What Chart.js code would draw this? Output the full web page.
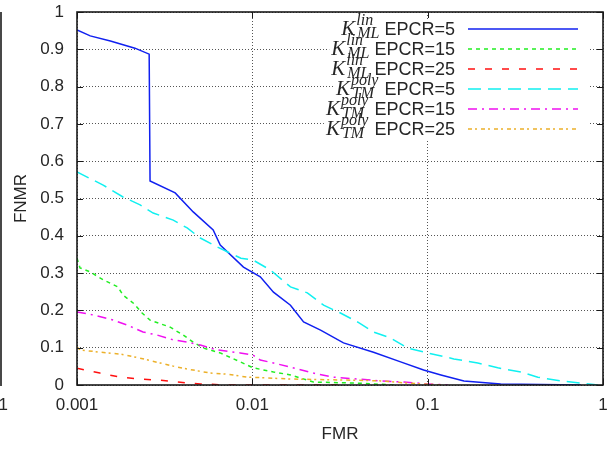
<!DOCTYPE html>
<html>
<head>
<meta charset="utf-8">
<title>FMR / FNMR</title>
<script src="https://cdn.jsdelivr.net/npm/chart.js"></script>
<style>
  html, body { margin: 0; padding: 0; background: #fff; }
  #wrap { width: 611px; height: 451px; }
</style>
</head>
<body>
<div id="wrap"><canvas id="det" width="611" height="451"></canvas></div>
<script>
// K_ML^lin, EPCR = 5 / 15 / 25
const mlLin5Fmr  = [0.001, 0.00119, 0.00155, 0.00214, 0.00258, 0.00261, 0.00363, 0.0046, 0.00598, 0.00656, 0.0089, 0.0111, 0.0132, 0.0165, 0.0196, 0.0245, 0.0331, 0.0491, 0.0701, 0.0948, 0.119, 0.161, 0.261, 0.748];
const mlLin5Fnmr = [0.952, 0.936, 0.922, 0.903, 0.887, 0.547, 0.515, 0.464, 0.416, 0.375, 0.316, 0.290, 0.249, 0.214, 0.169, 0.147, 0.113, 0.088, 0.062, 0.040, 0.027, 0.011, 0.003, 0.0];

const mlLin15Fmr  = [0.001, 0.00104, 0.00119, 0.00141, 0.00171, 0.00183, 0.00209, 0.00235, 0.00261, 0.0034, 0.00403, 0.0046, 0.00525, 0.00656, 0.00853, 0.0101, 0.0132, 0.0165, 0.0223, 0.0398, 0.065];
const mlLin15Fnmr = [0.340, 0.314, 0.303, 0.282, 0.263, 0.241, 0.220, 0.193, 0.174, 0.155, 0.134, 0.115, 0.099, 0.086, 0.062, 0.046, 0.035, 0.027, 0.008, 0.005, 0.0];

const mlLin25Fmr  = [0.001, 0.00135, 0.00176, 0.00229, 0.00298, 0.00373, 0.00505, 0.0072, 0.035];
const mlLin25Fnmr = [0.045, 0.032, 0.021, 0.016, 0.013, 0.008, 0.003, 0.0, 0.0];

// K_TM^poly, EPCR = 5 / 15 / 25
const tmPoly5Fmr  = [0.001, 0.00123, 0.00141, 0.00183, 0.00229, 0.00272, 0.00354, 0.00425, 0.00505, 0.00631, 0.0086, 0.0101, 0.0127, 0.0165, 0.0206, 0.0255, 0.0318, 0.0398, 0.0491, 0.0615, 0.0769, 0.1, 0.141, 0.193, 0.251, 0.34, 0.425, 0.575, 0.748, 0.935];
const tmPoly5Fnmr = [0.571, 0.550, 0.536, 0.504, 0.483, 0.461, 0.442, 0.421, 0.394, 0.370, 0.340, 0.335, 0.308, 0.263, 0.247, 0.214, 0.193, 0.169, 0.142, 0.126, 0.099, 0.086, 0.070, 0.059, 0.046, 0.035, 0.021, 0.011, 0.005, 0.0];

const tmPoly15Fmr  = [0.001, 0.00123, 0.00161, 0.00193, 0.00238, 0.00286, 0.00354, 0.00425, 0.00505, 0.00631, 0.00853, 0.0101, 0.0111, 0.0132, 0.0165, 0.0223, 0.029, 0.0398, 0.0538, 0.0729, 0.1, 0.13];
const tmPoly15Fnmr = [0.196, 0.188, 0.174, 0.161, 0.142, 0.134, 0.121, 0.115, 0.107, 0.094, 0.086, 0.080, 0.067, 0.059, 0.048, 0.032, 0.021, 0.016, 0.011, 0.008, 0.003, 0.0];

const tmPoly25Fmr  = [0.001, 0.00104, 0.00135, 0.00176, 0.00229, 0.00298, 0.00373, 0.0046, 0.00575, 0.0072, 0.00936, 0.0122, 0.0165, 0.0363, 0.0538, 0.0769, 0.0948, 0.12];
const tmPoly25Fnmr = [0.102, 0.094, 0.088, 0.083, 0.072, 0.059, 0.048, 0.040, 0.032, 0.029, 0.021, 0.019, 0.016, 0.013, 0.011, 0.005, 0.003, 0.0];

// key text pieces
const kernelSup = ['lin', 'lin', 'lin', 'poly', 'poly', 'poly'];
const kernelSub = ['ML', 'ML', 'ML', 'TM', 'TM', 'TM'];
const epcrValues = [5, 15, 25, 5, 15, 25];

// axis ticks
const xTickValues = [0.001, 0.01, 0.1, 1];
const xTickLabels = ['0.001', '0.01', '0.1', '1'];

const textColor = '#262626';
const sansFont = '"Liberation Sans", Arial, Helvetica, sans-serif';
const serifFont = '"Liberation Serif", "Times New Roman", serif';

function pts(xs, ys) {
    return xs.map((x, i) => ({ x: x, y: ys[i] }));
}

const series = [
    { fmr: mlLin5Fmr,   fnmr: mlLin5Fnmr,   color: '#1020f0', dash: [] },
    { fmr: mlLin15Fmr,  fnmr: mlLin15Fnmr,  color: '#22ee22', dash: [4, 4] },
    { fmr: mlLin25Fmr,  fnmr: mlLin25Fnmr,  color: '#ff1010', dash: [7, 10] },
    { fmr: tmPoly5Fmr,  fnmr: tmPoly5Fnmr,  color: '#10f0f0', dash: [13, 7] },
    { fmr: tmPoly15Fmr, fnmr: tmPoly15Fnmr, color: '#f010f0', dash: [9, 5, 2, 5] },
    { fmr: tmPoly25Fmr, fnmr: tmPoly25Fnmr, color: '#ecb02a', dash: [4, 3, 2, 4] }
];

// key with math-style labels, drawn over the grid
const mathKey = {
    id: 'mathKey',
    afterDatasetsDraw(chart) {
        const { ctx, chartArea } = chart;
        const textRight = chartArea.right - 148;
        const sampleL = chartArea.right - 135;
        const sampleR = chartArea.right - 25;
        const boxR = chartArea.right - 13;
        ctx.save();
        chart.data.datasets.forEach((ds, i) => {
            const cy = chartArea.top + 17 + i * 20;
            const base = cy + 6;
            const epcrText = 'EPCR=' + epcrValues[i];
            ctx.font = '18px ' + sansFont;
            const epcrW = ctx.measureText(epcrText).width;
            const mathR = textRight - epcrW - 5;
            ctx.font = 'italic 21px ' + serifFont;
            const kW = ctx.measureText('K').width;
            ctx.font = 'italic 16px ' + serifFont;
            const supW = ctx.measureText(kernelSup[i]).width;
            const subW = ctx.measureText(kernelSub[i]).width;
            const kX = mathR - Math.max(supW, subW) - kW - 2;

            ctx.fillStyle = '#fff';
            ctx.fillRect(kX - 2, cy - 10, boxR - kX + 2, 20);

            ctx.fillStyle = textColor;
            ctx.textBaseline = 'alphabetic';
            ctx.textAlign = 'left';
            ctx.font = 'italic 21px ' + serifFont;
            ctx.fillText('K', kX, base);
            ctx.font = 'italic 16px ' + serifFont;
            ctx.fillText(kernelSup[i], kX + kW + 1, base - 10);
            ctx.fillText(kernelSub[i], kX + kW + 2, base + 3);
            ctx.font = '18px ' + sansFont;
            ctx.fillText(epcrText, textRight - epcrW, base);

            ctx.strokeStyle = ds.borderColor;
            ctx.lineWidth = ds.borderWidth;
            ctx.setLineDash(ds.borderDash || []);
            ctx.beginPath();
            ctx.moveTo(sampleL, cy);
            ctx.lineTo(sampleR, cy);
            ctx.stroke();
        });
        ctx.restore();
    }
};

// solid frame with inward tics on all four sides
const frame = {
    id: 'frame',
    afterDraw(chart) {
        const { ctx, chartArea: a, scales } = chart;
        const tic = 6;
        ctx.save();
        ctx.strokeStyle = '#1a1a1a';
        ctx.lineWidth = 1;
        ctx.setLineDash([]);
        ctx.beginPath();
        scales.x.ticks.forEach(t => {
            const px = Math.round(scales.x.getPixelForValue(t.value)) + 0.5;
            ctx.moveTo(px, a.bottom); ctx.lineTo(px, a.bottom - tic);
            ctx.moveTo(px, a.top); ctx.lineTo(px, a.top + tic);
        });
        scales.y.ticks.forEach(t => {
            const py = Math.round(scales.y.getPixelForValue(t.value)) + 0.5;
            ctx.moveTo(a.left, py); ctx.lineTo(a.left + tic, py);
            ctx.moveTo(a.right, py); ctx.lineTo(a.right - tic, py);
        });
        ctx.stroke();
        ctx.lineWidth = 1.6;
        ctx.strokeRect(a.left, a.top, a.right - a.left, a.bottom - a.top);

        // edge of the neighbouring panel at the far left
        ctx.beginPath();
        ctx.moveTo(1, a.top);
        ctx.lineTo(1, a.bottom + 1);
        ctx.stroke();
        ctx.fillStyle = textColor;
        ctx.font = '17px ' + sansFont;
        ctx.textAlign = 'right';
        ctx.textBaseline = 'middle';
        ctx.fillText('1', 8, a.bottom + 20);
        ctx.restore();
    }
};

const ctx = document.getElementById('det').getContext('2d');
new Chart(ctx, {
    type: 'line',
    data: {
        datasets: series.map((s, i) => ({
            label: 'EPCR=' + epcrValues[i],
            data: pts(s.fmr, s.fnmr),
            borderColor: s.color,
            backgroundColor: s.color,
            borderWidth: 1.5,
            borderDash: s.dash,
            pointRadius: 0,
            tension: 0,
            fill: false,
            order: series.length - i
        }))
    },
    options: {
        responsive: false,
        animation: false,
        layout: { padding: { top: 12, right: 8, left: 0, bottom: 0 } },
        plugins: {
            legend: { display: false },
            tooltip: { enabled: false }
        },
        scales: {
            x: {
                type: 'logarithmic',
                min: 0.001,
                max: 1,
                afterBuildTicks(scale) {
                    scale.ticks = xTickValues.map(v => ({ value: v }));
                },
                afterFit(scale) {
                    scale.height = 66;
                    scale.paddingLeft = 0;
                    scale.paddingRight = 0;
                },
                ticks: {
                    autoSkip: false,
                    maxRotation: 0,
                    padding: 10,
                    color: textColor,
                    font: { family: sansFont, size: 17 },
                    callback: (v, i) => xTickLabels[i]
                },
                grid: { color: '#555', lineWidth: 1, drawTicks: false },
                border: { display: false, dash: [1, 2] },
                title: {
                    display: true,
                    text: 'FMR',
                    color: textColor,
                    font: { family: sansFont, size: 17 },
                    padding: { top: 0, bottom: 6 }
                }
            },
            y: {
                min: 0,
                max: 1,
                afterFit(scale) {
                    scale.width = 77;
                    scale.paddingTop = 0;
                    scale.paddingBottom = 0;
                },
                ticks: {
                    stepSize: 0.1,
                    padding: 13,
                    color: textColor,
                    font: { family: sansFont, size: 17 },
                    callback: v => String(Math.round(v * 10) / 10)
                },
                grid: { color: '#555', lineWidth: 1, drawTicks: false },
                border: { display: false, dash: [1, 2] },
                title: {
                    display: true,
                    text: 'FNMR',
                    color: textColor,
                    font: { family: sansFont, size: 17 },
                    padding: { top: 11, bottom: 0 }
                }
            }
        }
    },
    plugins: [mathKey, frame]
});
</script>
</body>
</html>
